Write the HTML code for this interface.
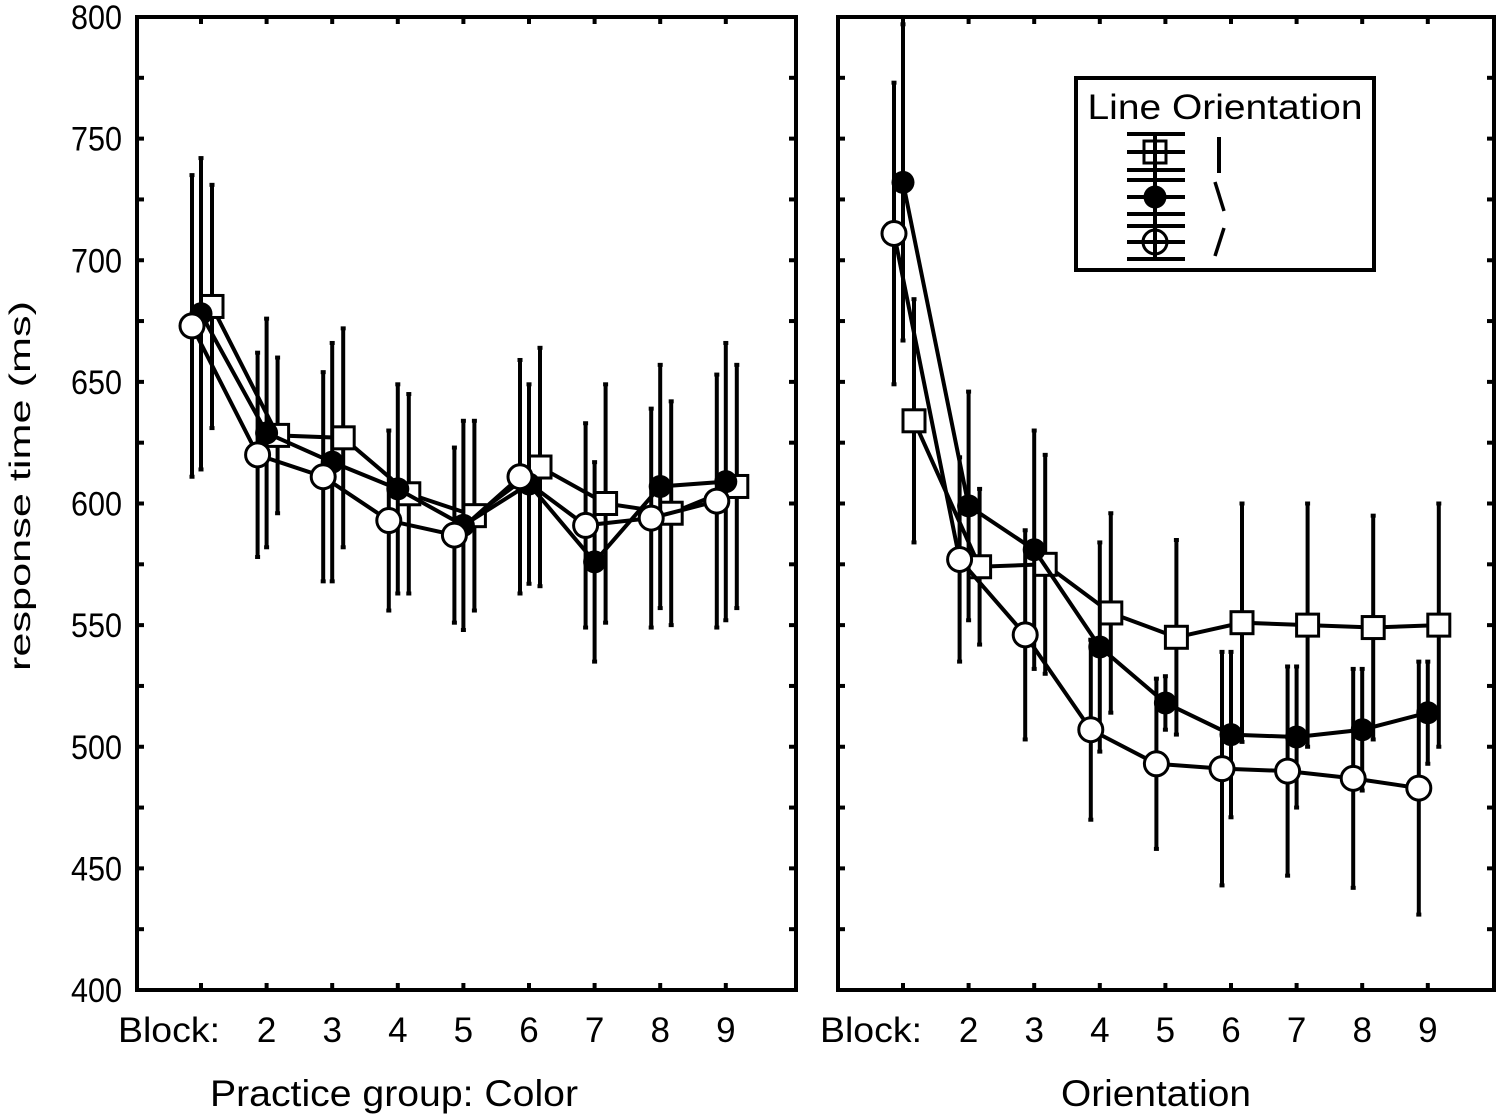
<!DOCTYPE html>
<html><head><meta charset="utf-8"><style>body{margin:0;background:#fff}svg{display:block}text{font-family:"Liberation Sans",sans-serif;fill:#000}</style></head>
<body>
<svg id="c" width="1498" height="1117" viewBox="0 0 1498 1117"></svg>
<script>
const blocks=[1,2,3,4,5,6,7,8,9];
const blockLabels=["Block:","2","3","4","5","6","7","8","9"];
const yTicks=[400,450,500,550,600,650,700,750,800];
const leftSquare=[681,628,627,604,595,615,600,596,607];
const leftFilled=[678,629,617,606,591,608,576,607,609];
const leftCircle=[673,620,611,593,587,611,591,594,601];
const leftSquareErr=[50,32,45,41,39,49,49,46,50];
const leftFilledErr=[64,47,49,43,43,41,41,50,57];
const leftCircleErr=[62,42,43,37,36,48,42,45,52];
const rightSquare=[634,574,575,555,545,551,550,549,550];
const rightFilled=[732,599,581,541,518,505,504,507,514];
const rightCircle=[711,577,546,507,493,491,490,487,483];
const rightSquareErr=[50,32,45,41,40,49,50,46,50];
const rightFilledErr=[65,47,49,43,11,34,29,25,21];
const rightCircleErr=[62,42,43,37,35,48,43,45,52];

const NS="http://www.w3.org/2000/svg";
const svg=document.getElementById('c');
function mk(tag,attrs,parent){const e=document.createElementNS(NS,tag);for(const k in attrs)e.setAttribute(k,attrs[k]);(parent||svg).appendChild(e);return e;}
const y=v=>990-(v-400)*(973/400);
const panels=[
 {x0:137,x1:796,bx:201,title:"Practice group: Color",tx:394,tw:368,sq:leftSquare,fi:leftFilled,ci:leftCircle,sqe:leftSquareErr,fie:leftFilledErr,cie:leftCircleErr,name:"color"},
 {x0:838,x1:1494,bx:903,title:"Orientation",tx:1156,tw:190,sq:rightSquare,fi:rightFilled,ci:rightCircle,sqe:rightSquareErr,fie:rightFilledErr,cie:rightCircleErr,name:"orientation"}];
const step=65.6;
panels.forEach((p,pi)=>{
 const g=mk('g',{});
 
 
 const x=b=>p.bx+(b-1)*step;
 mk('rect',{x:p.x0,y:17,width:p.x1-p.x0,height:973,fill:'none',stroke:'#000','stroke-width':4},g);
 for(let v=400;v<=800;v+=25){mk('line',{x1:p.x0,x2:p.x0+7,y1:y(v),y2:y(v),stroke:'#000','stroke-width':4},g);mk('line',{x1:p.x1,x2:p.x1-7,y1:y(v),y2:y(v),stroke:'#000','stroke-width':4},g);}
 blocks.forEach((b,i)=>{
  mk('line',{x1:x(b),x2:x(b),y1:990,y2:983,stroke:'#000','stroke-width':4},g);
  mk('line',{x1:x(b),x2:x(b),y1:17,y2:24,stroke:'#000','stroke-width':4},g);
  const attrs={x:i===0?x(b)-32:x(b),y:1042,'font-size':35,'text-anchor':'middle'};
  if(i===0){attrs.textLength=102;attrs.lengthAdjust='spacingAndGlyphs';}
  const t=mk('text',attrs,g);t.textContent=blockLabels[i];
  
  
 });
 const tt=mk('text',{x:p.tx,y:1106,'font-size':37,'text-anchor':'middle',textLength:p.tw,lengthAdjust:'spacingAndGlyphs'},g);tt.textContent=p.title;
 
 
 const series=[{v:p.sq,e:p.sqe,off:11,type:'square'},{v:p.fi,e:p.fie,off:0,type:'filled'},{v:p.ci,e:p.cie,off:-9,type:'circle'}];
 series.forEach(s=>{
  const sg=mk('g',{},g);
  
  
  s.v.forEach((v,i)=>{const xx=x(blocks[i])+s.off;
   mk('line',{x1:xx,x2:xx,y1:y(v+s.e[i]),y2:y(v-s.e[i]),stroke:'#000','stroke-width':4},sg);
   [v+s.e[i],v-s.e[i]].forEach(w=>mk('line',{x1:xx-2.5,x2:xx+2.5,y1:y(w),y2:y(w),stroke:'#000','stroke-width':4},sg));});
  mk('polyline',{points:s.v.map((v,i)=>(x(blocks[i])+s.off)+','+y(v)).join(' '),fill:'none',stroke:'#000','stroke-width':4},sg);
  s.v.forEach((v,i)=>{const xx=x(blocks[i])+s.off,yy=y(v);let m;
   if(s.type==='square')m=mk('rect',{x:xx-11,y:yy-11,width:22,height:22,fill:'#fff',stroke:'#000','stroke-width':3},sg);
   else if(s.type==='filled')m=mk('circle',{cx:xx,cy:yy,r:11.5,fill:'#000'},sg);
   else m=mk('circle',{cx:xx,cy:yy,r:12,fill:'#fff',stroke:'#000','stroke-width':3},sg);
   
   });
 });
});
yTicks.forEach(v=>{const t=mk('text',{x:122,y:y(v)+12,'font-size':34,'text-anchor':'end',textLength:51,lengthAdjust:'spacingAndGlyphs'});t.textContent=v;
 
 });
const yt=mk('text',{x:0,y:0,'font-size':30,'text-anchor':'middle',textLength:370,lengthAdjust:'spacingAndGlyphs',transform:'translate(30,486) rotate(-90)'});yt.textContent='response time (ms)';


// legend
const lg=mk('g',{});


mk('rect',{x:1076,y:78,width:298,height:192,fill:'#fff',stroke:'#000','stroke-width':4},lg);
const lt=mk('text',{x:1225,y:119,'font-size':35,'text-anchor':'middle',textLength:275,lengthAdjust:'spacingAndGlyphs'},lg);lt.textContent='Line Orientation';
mk('line',{x1:1155,x2:1155,y1:133,y2:260,stroke:'#000','stroke-width':4},lg);
[134,152,170,180,197,214,226,242,259].forEach(yy=>mk('line',{x1:1127,x2:1185,y1:yy,y2:yy,stroke:'#000','stroke-width':4},lg));
mk('rect',{x:1144,y:141,width:22,height:22,fill:'none',stroke:'#000','stroke-width':3},lg);
mk('circle',{cx:1155,cy:197,r:11.5,fill:'#000'},lg);
mk('circle',{cx:1155,cy:242,r:12,fill:'none',stroke:'#000','stroke-width':3},lg);
mk('line',{x1:1219,x2:1219,y1:137,y2:173,stroke:'#000','stroke-width':4},lg);
mk('line',{x1:1215,x2:1224,y1:182,y2:211,stroke:'#000','stroke-width':3.5},lg);
mk('line',{x1:1224,x2:1215,y1:228,y2:256,stroke:'#000','stroke-width':3.5},lg);
</script>
</body></html>
